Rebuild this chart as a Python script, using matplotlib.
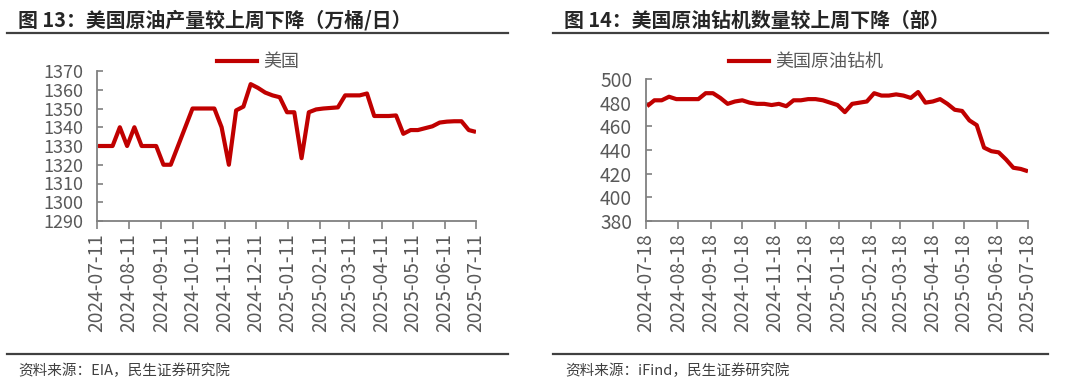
import matplotlib
matplotlib.use("Agg")
import matplotlib.pyplot as plt
import numpy as np
import pandas as pd
from matplotlib.lines import Line2D

plt.rcParams['font.family'] = ['Noto Sans CJK SC', 'DejaVu Sans']

# ---------------- data ----------------
prod_start = "2024-07-12"
prod_values = [1330, 1330, 1330, 1340, 1330, 1340, 1330, 1330, 1330, 1320,
               1320, 1330, 1340, 1350, 1350, 1350, 1350, 1340, 1320, 1349,
               1351, 1363, 1361, 1358.5, 1357, 1356, 1348, 1348, 1323.5, 1348,
               1349.5, 1350, 1350.3, 1350.6, 1357, 1357, 1357, 1358, 1346, 1346,
               1346, 1346.3, 1336.5, 1338.5, 1338.5, 1339.5, 1340.5, 1342.5, 1343, 1343.2,
               1343.2, 1338.5, 1337.5]
prod_ticks = ["2024-07-11", "2024-08-11", "2024-09-11", "2024-10-11", "2024-11-11",
              "2024-12-11", "2025-01-11", "2025-02-11", "2025-03-11", "2025-04-11",
              "2025-05-11", "2025-06-11", "2025-07-11"]

rig_start = "2024-07-19"
rig_values = [477, 482, 482, 485, 483, 483, 483, 483, 488, 488,
              484, 479, 481, 482, 480, 479, 479, 478, 479, 477,
              482, 482, 483, 483, 482, 480, 478, 472, 479, 480,
              481, 488, 486, 486, 487, 486, 484, 489, 480, 481,
              483, 479, 474, 473, 465, 461, 442, 439, 438, 432,
              425, 424, 422]
rig_ticks = ["2024-07-18", "2024-08-18", "2024-09-18", "2024-10-18", "2024-11-18",
             "2024-12-18", "2025-01-18", "2025-02-18", "2025-03-18", "2025-04-18",
             "2025-05-18", "2025-06-18", "2025-07-18"]

title_left = "图 13：美国原油产量较上周下降（万桶/日）"
title_right = "图 14：美国原油钻机数量较上周下降（部）"
legend_left = "美国"
legend_right = "美国原油钻机"
source_left = "资料来源：EIA，民生证券研究院"
source_right = "资料来源：iFind，民生证券研究院"

# ---------------- figure ----------------
W, H = 1080, 381
fig = plt.figure(figsize=(W / 100, H / 100), dpi=100)

def fx(px):
    return px / W

def fy(py):
    return 1 - py / H

LINE_C = "#C00000"
AX_C = "#808080"
TXT_C = "#595959"
TICK_FS = 13.8

def make_axes(rect_px, start, values, ticks, ylim, ystep, yfs):
    x0, x1, ytop, ybot = rect_px
    ax = fig.add_axes([fx(x0), fy(ybot), fx(x1 - x0), (ybot - ytop) / H])
    dates = pd.date_range(start, periods=len(values), freq="7D")
    ax.plot(dates, values, color=LINE_C, lw=3.0, solid_joinstyle="round",
            solid_capstyle="butt")
    tick_dates = pd.to_datetime(ticks)
    ax.set_xlim(tick_dates[0], tick_dates[-1])
    ax.set_xticks(tick_dates)
    ax.set_xticklabels(ticks, rotation=90, fontsize=TICK_FS, color=TXT_C)
    ax.set_ylim(*ylim)
    ax.set_yticks(np.arange(ylim[0], ylim[1] + 1, ystep))
    ax.tick_params(axis="y", direction="in", length=4, width=1.2, color=AX_C,
                   labelsize=yfs, labelcolor=TXT_C, pad=10)
    ax.tick_params(axis="x", direction="out", length=6, width=1.2, color=AX_C,
                   pad=3)
    for s in ["top", "right"]:
        ax.spines[s].set_visible(False)
    for s in ["left", "bottom"]:
        ax.spines[s].set_color(AX_C)
        ax.spines[s].set_linewidth(1.3)
    ax.patch.set_alpha(0)
    return ax

axL = make_axes((97, 476, 71, 221), prod_start, prod_values, prod_ticks,
                (1290, 1370), 10, 13)
axR = make_axes((646, 1028, 79, 221), rig_start, rig_values, rig_ticks,
                (380, 500), 20, TICK_FS)

# titles
fig.text(fx(18), fy(20), title_left, fontsize=14.3, fontweight="bold",
         color="#262626", va="center", ha="left")
fig.text(fx(564), fy(20), title_right, fontsize=14.3, fontweight="bold",
         color="#262626", va="center", ha="left")

# rules
for (a, b) in [(7, 508), (553, 1048)]:
    for y in (33, 354):
        fig.add_artist(Line2D([fx(a), fx(b)], [fy(y), fy(y)], color="#404040",
                              lw=1.6, transform=fig.transFigure))

# sources
fig.text(fx(18), fy(371), source_left, fontsize=10.5, color="#404040",
         va="center", ha="left")
fig.text(fx(565), fy(371), source_right, fontsize=10.5, color="#404040",
         va="center", ha="left")

# legends
for ax, lab, cx in [(axL, legend_left, 258), (axR, legend_right, 806)]:
    h = Line2D([], [], color=LINE_C, lw=3.0)
    fig.legend([h], [lab], loc="center", bbox_to_anchor=(fx(cx), fy(62)),
               frameon=False, fontsize=13, handlelength=2.2, handletextpad=0.35,
               labelcolor=TXT_C, borderpad=0)

fig.savefig("out.png", dpi=100)
